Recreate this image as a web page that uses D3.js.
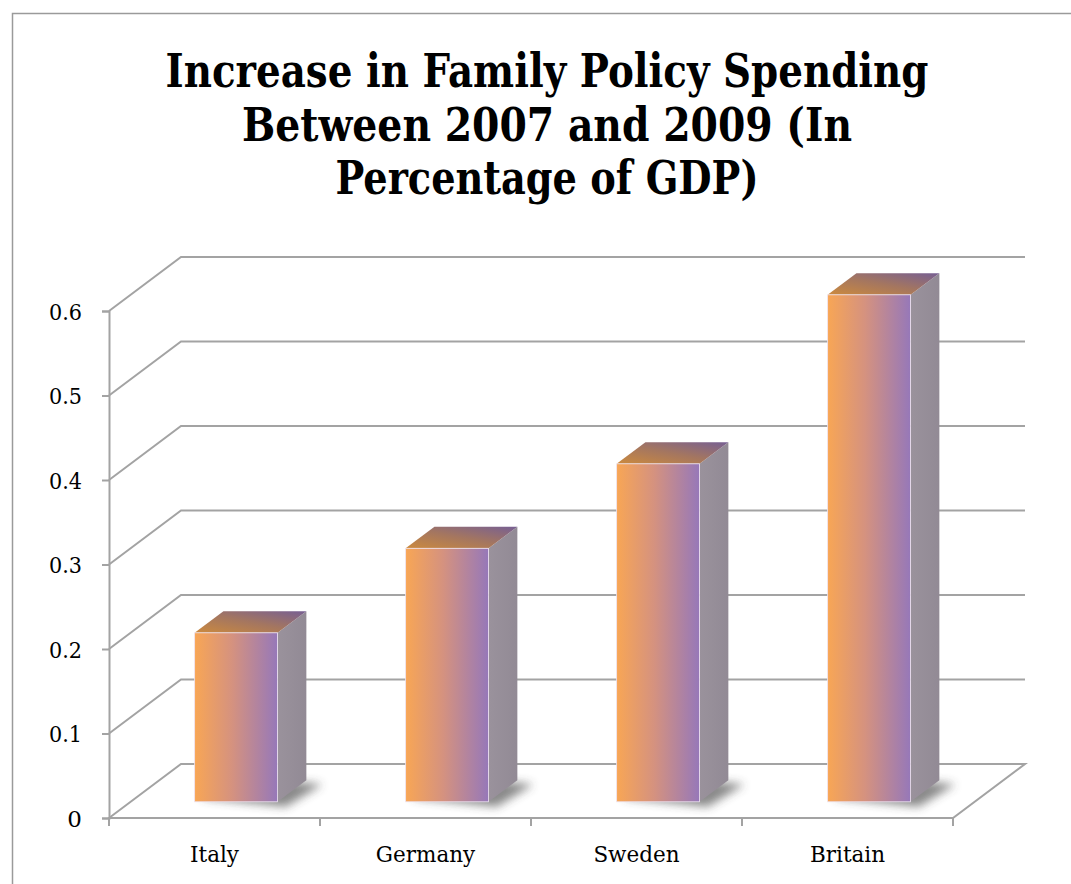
<!DOCTYPE html>
<html><head><meta charset="utf-8">
<script src="https://cdn.jsdelivr.net/npm/d3@7"></script>
<style>html,body{margin:0;padding:0;background:#fff;overflow:hidden}</style>
</head><body>
<svg id="c" width="1071" height="884"></svg>
<script>
const categories = ["Italy", "Germany", "Sweden", "Britain"];
const values = [0.2, 0.3, 0.4, 0.6];
const yTicks = [0, 0.1, 0.2, 0.3, 0.4, 0.5, 0.6];
const titleLines = ["Increase in Family Policy Spending", "Between 2007 and 2009 (In", "Percentage of GDP)"];

const svg = d3.select("#c");
const x0 = 109, x1 = 953, yBase = 818, yTop = 311;
const DX = 72, DY = -54; // full depth offset
const frontD = 0.3, backD = 0.7;

const x = d3.scaleBand().domain(categories).range([x0, x1]).padding(0);
const xb = d3.scaleBand().domain(categories).range([x0, x1]).paddingInner(0.607).paddingOuter(0.3035);
const y = d3.scaleLinear().domain([0, 0.6]).range([yBase, yTop]);

const defs = svg.append("defs");
const fg = defs.append("linearGradient").attr("id", "front").attr("x1", 0).attr("x2", 1).attr("y1", 0).attr("y2", 0);
fg.append("stop").attr("offset", 0).attr("stop-color", "#F8A655");
fg.append("stop").attr("offset", 0.45).attr("stop-color", "#D5927F");
fg.append("stop").attr("offset", 1).attr("stop-color", "#9678B9");
const tg = defs.append("linearGradient").attr("id", "top").attr("x1", 0).attr("x2", 1).attr("y1", 1).attr("y2", 0);
tg.append("stop").attr("offset", 0).attr("stop-color", "#CC8A3E");
tg.append("stop").attr("offset", 0.5).attr("stop-color", "#A47660");
tg.append("stop").attr("offset", 1).attr("stop-color", "#765F93");
const sg = defs.append("linearGradient").attr("id", "side").attr("x1", 0).attr("x2", 1);
sg.append("stop").attr("offset", 0).attr("stop-color", "#9A929C");
sg.append("stop").attr("offset", 1).attr("stop-color", "#928A95");
const blur = defs.append("filter").attr("id", "blur").attr("x", "-50%").attr("y", "-50%").attr("width", "200%").attr("height", "200%");
blur.append("feGaussianBlur").attr("stdDeviation", 5);

// outer border
svg.append("rect").attr("x", 12.5).attr("y", 13.5).attr("width", 1200).attr("height", 1000)
  .attr("fill", "none").attr("stroke", "#9a9a9a").attr("stroke-width", 1.5);

const gridColor = "#a3a3a3";
const g = svg.append("g");
yTicks.forEach(t => {
  if (t === 0) return;
  g.append("polyline")
    .attr("points", [[x0, y(t)], [x0 + DX, y(t) + DY], [x1 + DX, y(t) + DY]].map(p => p.join(",")).join(" "))
    .attr("fill", "none").attr("stroke", gridColor).attr("stroke-width", 2);
});
g.append("polygon")
  .attr("points", [[x0, yBase], [x0 + DX, yBase + DY], [x1 + DX, yBase + DY], [x1, yBase]].map(p => p.join(",")).join(" "))
  .attr("fill", "none").attr("stroke", gridColor).attr("stroke-width", 2);

// y axis
const yAxis = d3.axisLeft(y).tickValues(yTicks).tickFormat(d => d === 0 ? "0" : d3.format(".1f")(d)).tickSize(7).tickPadding(20);
const ya = svg.append("g").attr("transform", `translate(${x0},0)`).call(yAxis);
ya.attr("font-size", null).attr("font-family", null);
ya.select(".domain").attr("stroke", gridColor).attr("stroke-width", 2);
ya.selectAll(".tick line").attr("stroke", gridColor).attr("stroke-width", 2);
ya.selectAll(".tick text").attr("font-family", "DejaVu Serif, serif").attr("font-size", 23).attr("fill", "#000")
  .attr("dy", "0.36em")
  .each(function (d) { if (d !== 0) d3.select(this).attr("textLength", 33).attr("lengthAdjust", "spacingAndGlyphs"); });

// x axis ticks
const xt = [x0, ...categories.map(c => x(c) + x.bandwidth())];
svg.append("g").selectAll("line").data(xt).join("line")
  .attr("x1", d => d).attr("x2", d => d).attr("y1", yBase).attr("y2", yBase + 8)
  .attr("stroke", gridColor).attr("stroke-width", 2);
svg.append("g").selectAll("text").data(categories).join("text")
  .attr("x", d => x(d) + x.bandwidth() / 2).attr("y", 862)
  .attr("text-anchor", "middle").attr("font-family", "DejaVu Serif, serif").attr("font-size", 21.5)
  .text(d => d);

// bars
const fdx = DX * frontD, fdy = DY * frontD;
const bdx = DX * (backD - frontD), bdy = DY * (backD - frontD);
const bars = svg.append("g").selectAll("g").data(categories.map((c, i) => ({ c, v: values[i] }))).join("g");
bars.append("polygon")
  .attr("points", d => {
    const l = xb(d.c) + fdx, r = l + xb.bandwidth(), b = yBase + fdy;
    return [[l + 6, b - 4], [r + 8, b + 5], [r + bdx + 16, b + bdy + 4], [l + bdx + 6, b + bdy - 4]].map(p => p.join(",")).join(" ");
  })
  .attr("fill", "#3a3a3a").attr("opacity", 0.6).attr("filter", "url(#blur)");
bars.append("polygon")
  .attr("points", d => {
    const r = xb(d.c) + fdx + xb.bandwidth(), b = yBase + fdy, t = y(d.v) + fdy;
    return [[r, t], [r + bdx, t + bdy], [r + bdx, b + bdy], [r, b]].map(p => p.join(",")).join(" ");
  })
  .attr("fill", "url(#side)");
bars.append("polygon")
  .attr("points", d => {
    const l = xb(d.c) + fdx, r = l + xb.bandwidth(), t = y(d.v) + fdy;
    return [[l, t], [l + bdx, t + bdy], [r + bdx, t + bdy], [r, t]].map(p => p.join(",")).join(" ");
  })
  .attr("fill", "url(#top)");
bars.append("rect")
  .attr("x", d => xb(d.c) + fdx).attr("y", d => y(d.v) + fdy)
  .attr("width", xb.bandwidth()).attr("height", d => yBase - y(d.v))
  .attr("fill", "url(#front)").attr("stroke", "#efe4f2").attr("stroke-width", 0.8);

// title
const baselines = [87, 141, 194];
const widths = [763, 610, 423];
const tt = svg.append("g");
titleLines.forEach((l, i) => tt.append("text")
  .attr("x", 547).attr("y", baselines[i]).attr("text-anchor", "middle")
  .attr("font-family", "DejaVu Serif, serif").attr("font-weight", "bold").attr("font-size", 46)
  .attr("textLength", widths[i]).attr("lengthAdjust", "spacingAndGlyphs")
  .text(l));
</script>
</body></html>
